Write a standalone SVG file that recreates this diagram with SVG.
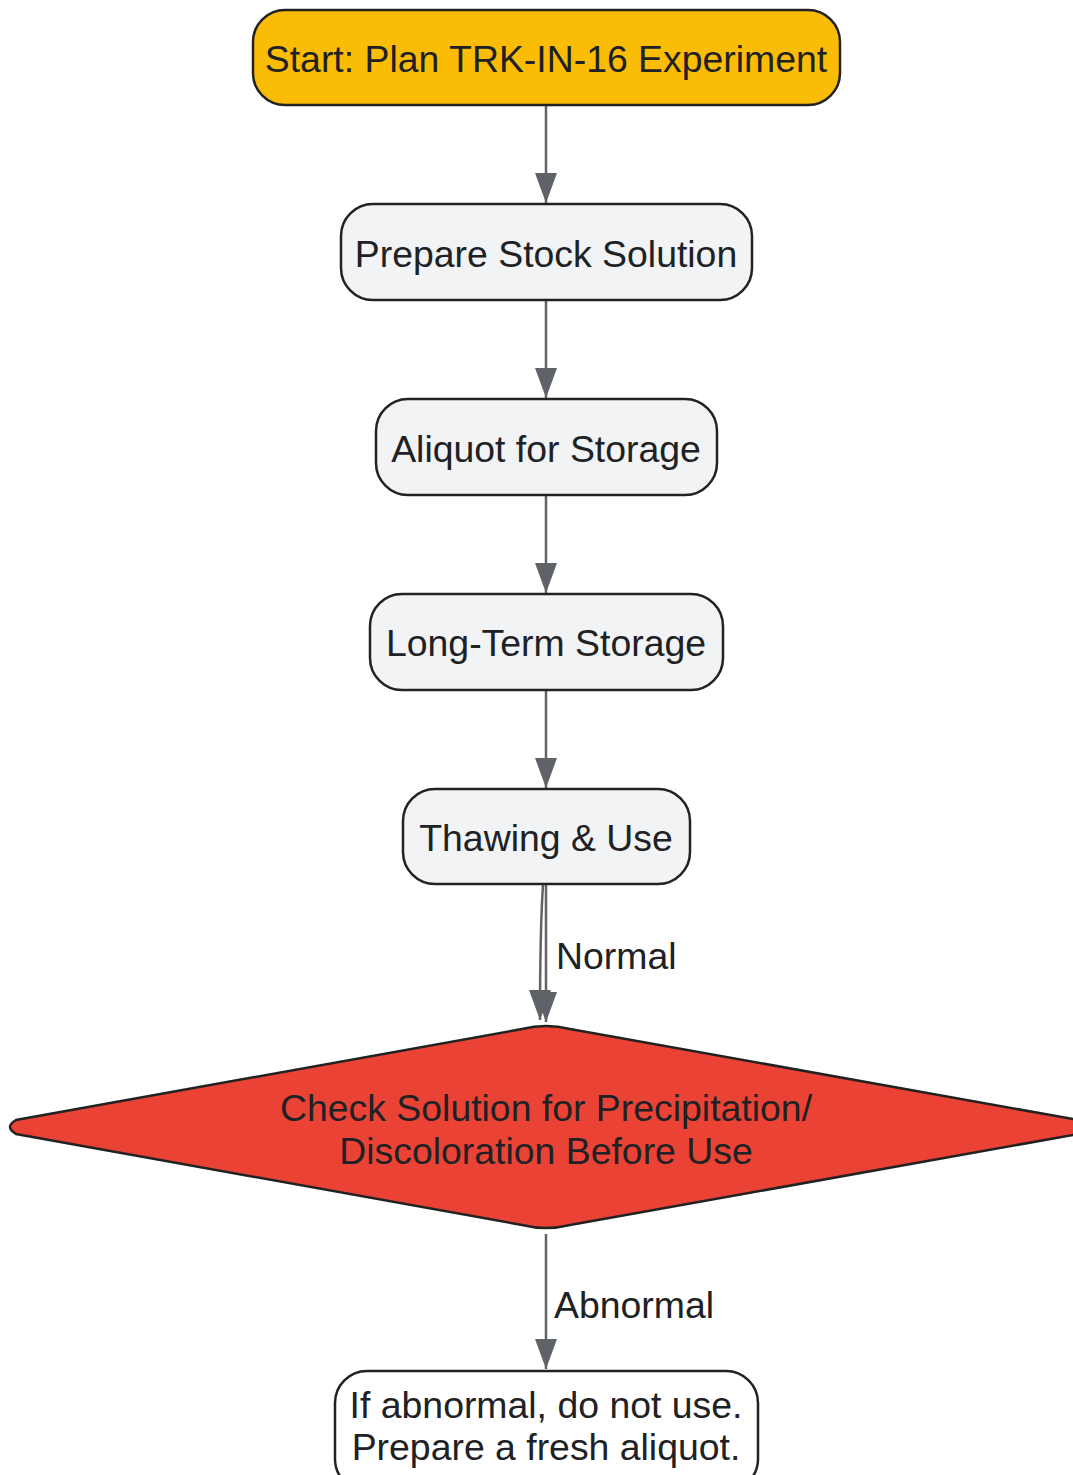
<svg xmlns="http://www.w3.org/2000/svg" width="1073" height="1475" viewBox="0 0 1073 1475">
<style>
.node{stroke:#222222;stroke-width:2.5}
.t{font-family:"Liberation Sans",Arial,sans-serif;font-size:37.4px;fill:#202124;text-anchor:middle;dominant-baseline:central}
.lbl{font-family:"Liberation Sans",Arial,sans-serif;font-size:37.4px;fill:#202124;dominant-baseline:central}
.edge{fill:none;stroke:#5f6368;stroke-width:2.5}
</style>
<defs>
<marker id="ah" viewBox="0 0 30 22" refX="30" refY="11" markerWidth="30" markerHeight="22" markerUnits="userSpaceOnUse" orient="auto">
<path d="M0,0 L30,11 L0,22 z" fill="#5f6368"/>
</marker>
</defs>
<rect width="1073" height="1475" fill="#ffffff"/>
<g id="connectors">
<path class="edge" d="M546,106 V203" marker-end="url(#ah)"/>
<path class="edge" d="M546,301 V398" marker-end="url(#ah)"/>
<path class="edge" d="M546,496 V593" marker-end="url(#ah)"/>
<path class="edge" d="M546,691 V788" marker-end="url(#ah)"/>
<path class="edge" d="M546,885 V1022" marker-end="url(#ah)"/>
<path class="edge" d="M543,885 C540,930 540,980 540,1020" marker-end="url(#ah)"/>
<path class="edge" d="M546,1234 V1369" marker-end="url(#ah)"/>
<text class="lbl" x="556" y="956">Normal</text>
<text class="lbl" x="554" y="1305">Abnormal</text>
</g>
<g id="start">
<rect class="node" x="253" y="10" width="587" height="95" rx="32" fill="#fbbc05"/>
<text class="t" x="546" y="59">Start: Plan TRK-IN-16 Experiment</text>
</g>
<g id="prepare">
<rect class="node" x="341" y="204" width="411" height="96" rx="32" fill="#f1f3f4"/>
<text class="t" x="546" y="254">Prepare Stock Solution</text>
</g>
<g id="aliquot">
<rect class="node" x="376" y="399" width="341" height="96" rx="32" fill="#f1f3f4"/>
<text class="t" x="546" y="449">Aliquot for Storage</text>
</g>
<g id="storage">
<rect class="node" x="370" y="594" width="353" height="96" rx="32" fill="#f1f3f4"/>
<text class="t" x="546" y="643">Long-Term Storage</text>
</g>
<g id="thaw">
<rect class="node" x="403" y="789" width="287" height="95" rx="32" fill="#f1f3f4"/>
<text class="t" x="546" y="838">Thawing &amp; Use</text>
</g>
<g id="check">
<path class="node" fill="#ea4335" d="M522,1029 Q546,1023 570,1029 L1078,1120 Q1090,1127 1078,1134 L570,1225 Q546,1231 522,1225 L16,1134 Q4,1127 16,1120 Z"/>
<text class="t" x="546" y="1108" fill="#3c1a18">Check Solution for Precipitation/</text>
<text class="t" x="546" y="1151" fill="#3c1a18">Discoloration Before Use</text>
</g>
<g id="discard">
<rect class="node" x="335" y="1371" width="423" height="120" rx="32" fill="#ffffff"/>
<text class="t" x="546" y="1405">If abnormal, do not use.</text>
<text class="t" x="546" y="1447">Prepare a fresh aliquot.</text>
</g>
</svg>
